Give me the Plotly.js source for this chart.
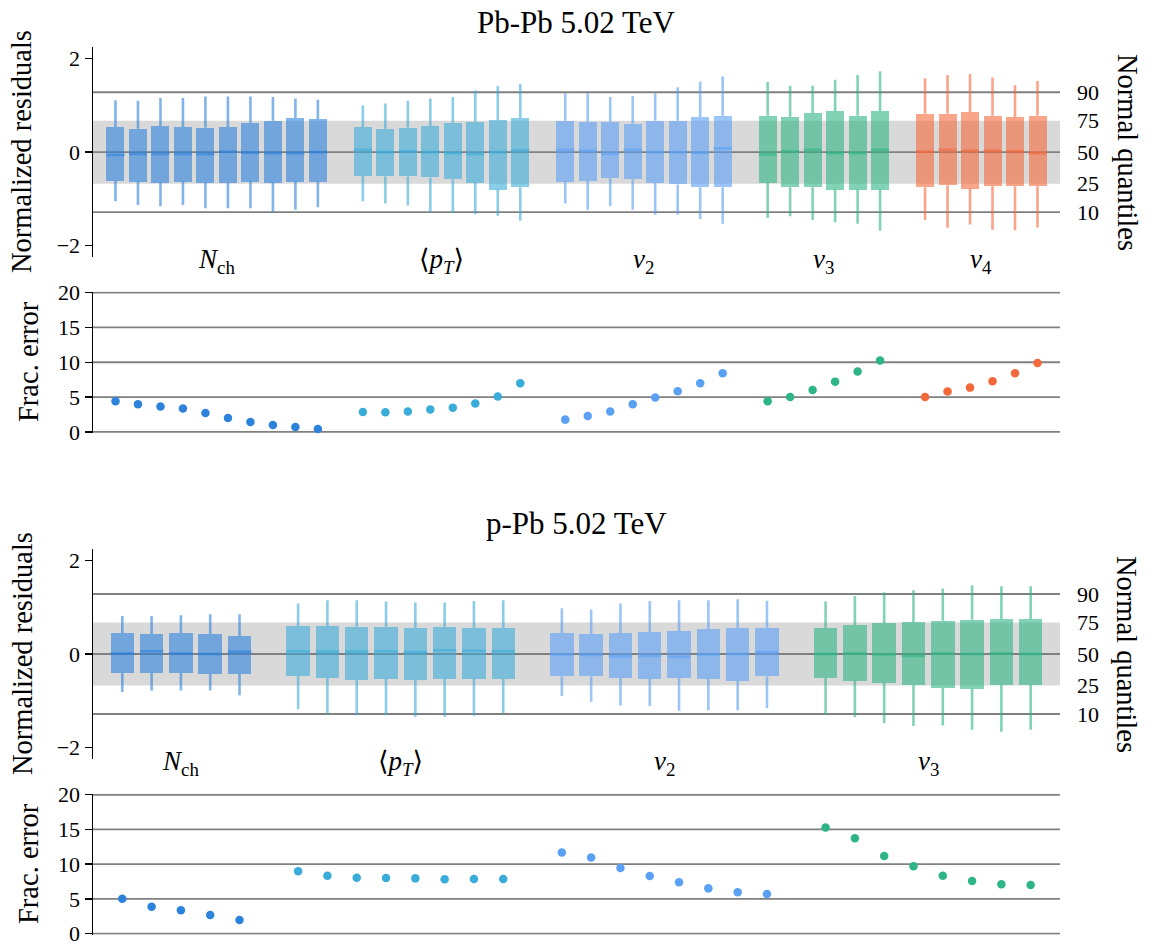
<!DOCTYPE html>
<html><head><meta charset="utf-8">
<script src="https://cdn.plot.ly/plotly-3.0.1.min.js"></script>
<style>html,body{margin:0;padding:0;background:#fff}</style>
</head><body>
<div id="chart" style="width:1153px;height:941px"></div>
<script>
// ---------------- DATA ----------------
// Normal quantile reference levels (z-scores) and their labels
const quantileZ = [1.2816, 0.6745, 0, -0.6745, -1.2816];
const quantileLabels = ['90', '75', '50', '25', '10'];

// ===== Pb-Pb 5.02 TeV =====
const PbPb_Nch_hi  = [1.11, 1.10, 1.16, 1.16, 1.19, 1.19, 1.19, 1.18, 1.15, 1.12];
const PbPb_Nch_q3  = [0.54, 0.50, 0.56, 0.54, 0.52, 0.54, 0.63, 0.67, 0.73, 0.71];
const PbPb_Nch_med = [-0.06, -0.04, -0.04, -0.04, -0.04, 0.01, -0.01, -0.02, -0.02, 0.00];
const PbPb_Nch_q1  = [-0.61, -0.63, -0.65, -0.63, -0.65, -0.65, -0.63, -0.65, -0.63, -0.63];
const PbPb_Nch_lo  = [-1.05, -1.13, -1.16, -1.13, -1.20, -1.20, -1.20, -1.27, -1.23, -1.18];
const PbPb_Nch_frac = [4.40, 3.97, 3.64, 3.35, 2.73, 2.01, 1.44, 1.00, 0.72, 0.43];

const PbPb_pT_hi  = [1.00, 1.04, 1.10, 1.15, 1.18, 1.32, 1.41, 1.46];
const PbPb_pT_q3  = [0.54, 0.50, 0.52, 0.56, 0.63, 0.65, 0.69, 0.73];
const PbPb_pT_med = [0.05, 0.00, 0.02, 0.00, -0.02, -0.04, 0.00, 0.04];
const PbPb_pT_q1  = [-0.50, -0.52, -0.52, -0.54, -0.58, -0.65, -0.80, -0.75];
const PbPb_pT_lo  = [-1.05, -1.10, -1.14, -1.28, -1.30, -1.33, -1.36, -1.47];
const PbPb_pT_frac = [2.87, 2.82, 2.92, 3.21, 3.49, 4.07, 5.07, 6.99];

const PbPb_v2_hi  = [1.26, 1.26, 1.18, 1.20, 1.26, 1.39, 1.51, 1.62];
const PbPb_v2_q3  = [0.67, 0.65, 0.65, 0.61, 0.67, 0.67, 0.75, 0.78];
const PbPb_v2_med = [0.05, 0.03, -0.04, 0.05, 0.00, 0.00, -0.01, 0.08];
const PbPb_v2_q1  = [-0.63, -0.61, -0.56, -0.58, -0.65, -0.69, -0.75, -0.75];
const PbPb_v2_lo  = [-1.10, -1.23, -1.15, -1.23, -1.34, -1.34, -1.43, -1.53];
const PbPb_v2_frac = [1.77, 2.30, 2.92, 3.97, 4.93, 5.84, 6.99, 8.42];

const PbPb_v3_hi  = [1.50, 1.42, 1.42, 1.55, 1.65, 1.73];
const PbPb_v3_q3  = [0.78, 0.75, 0.84, 0.88, 0.78, 0.88];
const PbPb_v3_med = [-0.05, 0.02, 0.05, -0.02, -0.02, 0.05];
const PbPb_v3_q1  = [-0.65, -0.75, -0.75, -0.80, -0.80, -0.80];
const PbPb_v3_lo  = [-1.41, -1.37, -1.45, -1.50, -1.53, -1.68];
const PbPb_v3_frac = [4.40, 5.02, 6.03, 7.22, 8.66, 10.24];

const PbPb_v4_hi  = [1.58, 1.65, 1.67, 1.60, 1.43, 1.52];
const PbPb_v4_q3  = [0.82, 0.82, 0.86, 0.78, 0.75, 0.78];
const PbPb_v4_med = [0.01, 0.05, 0.03, 0.03, 0.02, -0.02];
const PbPb_v4_q1  = [-0.75, -0.71, -0.78, -0.73, -0.73, -0.73];
const PbPb_v4_lo  = [-1.45, -1.62, -1.55, -1.66, -1.67, -1.61];
const PbPb_v4_frac = [5.02, 5.79, 6.36, 7.27, 8.42, 9.90];

// ===== p-Pb 5.02 TeV =====
const pPb_Nch_hi  = [0.81, 0.81, 0.83, 0.85, 0.85];
const pPb_Nch_q3  = [0.45, 0.43, 0.45, 0.43, 0.38];
const pPb_Nch_med = [0.01, 0.06, 0.01, 0.00, 0.05];
const pPb_Nch_q1  = [-0.40, -0.40, -0.40, -0.42, -0.42];
const pPb_Nch_lo  = [-0.81, -0.78, -0.78, -0.78, -0.88];
const pPb_Nch_frac = [5.04, 3.88, 3.36, 2.69, 1.97];

const pPb_pT_hi  = [1.08, 1.15, 1.15, 1.12, 1.10, 1.10, 1.13, 1.15];
const pPb_pT_q3  = [0.60, 0.60, 0.58, 0.58, 0.56, 0.58, 0.56, 0.56];
const pPb_pT_med = [0.06, 0.05, 0.05, 0.06, 0.04, 0.08, 0.07, 0.06];
const pPb_pT_q1  = [-0.46, -0.51, -0.55, -0.53, -0.55, -0.53, -0.53, -0.53];
const pPb_pT_lo  = [-1.18, -1.27, -1.31, -1.31, -1.34, -1.34, -1.32, -1.27];
const pPb_pT_frac = [8.97, 8.35, 8.06, 8.01, 7.96, 7.82, 7.87, 7.87];

const pPb_v2_hi  = [0.98, 0.95, 1.08, 1.13, 1.15, 1.15, 1.17, 1.14];
const pPb_v2_q3  = [0.45, 0.43, 0.45, 0.47, 0.49, 0.53, 0.56, 0.56];
const pPb_v2_med = [-0.01, -0.02, -0.05, -0.04, -0.06, -0.01, 0.00, 0.04];
const pPb_v2_q1  = [-0.48, -0.48, -0.51, -0.53, -0.51, -0.53, -0.57, -0.48];
const pPb_v2_lo  = [-0.90, -1.02, -1.10, -1.11, -1.21, -1.20, -1.20, -1.16];
const pPb_v2_frac = [11.70, 10.98, 9.45, 8.30, 7.39, 6.52, 5.95, 5.71];

const pPb_v3_hi  = [1.12, 1.24, 1.32, 1.36, 1.40, 1.47, 1.45, 1.45];
const pPb_v3_q3  = [0.56, 0.62, 0.66, 0.68, 0.71, 0.73, 0.75, 0.75];
const pPb_v3_med = [0.00, 0.01, -0.01, -0.04, 0.01, 0.00, 0.01, 0.00];
const pPb_v3_q1  = [-0.51, -0.57, -0.61, -0.66, -0.72, -0.74, -0.66, -0.66];
const pPb_v3_lo  = [-1.30, -1.35, -1.48, -1.54, -1.53, -1.62, -1.66, -1.62];
const pPb_v3_frac = [15.30, 13.72, 11.17, 9.69, 8.35, 7.58, 7.10, 7.00];

// group labels
const labelNch = '<i>N</i><sub>ch</sub>';
const labelPT  = '⟨<i>p</i><sub><i>T</i></sub>⟩';
const labelV2  = '<i>v</i><sub>2</sub>';
const labelV3  = '<i>v</i><sub>3</sub>';
const labelV4  = '<i>v</i><sub>4</sub>';

// ---------------- STYLE ----------------
const RGB = {Nch: '45,130,220', pT: '58,172,218', v2: '90,160,245', v3: '46,181,133', v4: '244,105,60'};
const ALPHA = 0.6;
const FONT = '"Liberation Serif", "DejaVu Serif", serif';
const W = 1153, H = 941, ML = 93, MR = 93;
const plotW = W - ML - MR;
const RES_RANGE = [-2.25, 2.25];
const LABEL_LEVEL = -2.33; // vertical level of the group names (residual units, below the axis)

const panelPbPb = [
  {key: 'Nch', label: labelNch, hi: PbPb_Nch_hi, q3: PbPb_Nch_q3, med: PbPb_Nch_med, q1: PbPb_Nch_q1, lo: PbPb_Nch_lo, fe: PbPb_Nch_frac},
  {key: 'pT',  label: labelPT,  hi: PbPb_pT_hi,  q3: PbPb_pT_q3,  med: PbPb_pT_med,  q1: PbPb_pT_q1,  lo: PbPb_pT_lo,  fe: PbPb_pT_frac},
  {key: 'v2',  label: labelV2,  hi: PbPb_v2_hi,  q3: PbPb_v2_q3,  med: PbPb_v2_med,  q1: PbPb_v2_q1,  lo: PbPb_v2_lo,  fe: PbPb_v2_frac},
  {key: 'v3',  label: labelV3,  hi: PbPb_v3_hi,  q3: PbPb_v3_q3,  med: PbPb_v3_med,  q1: PbPb_v3_q1,  lo: PbPb_v3_lo,  fe: PbPb_v3_frac},
  {key: 'v4',  label: labelV4,  hi: PbPb_v4_hi,  q3: PbPb_v4_q3,  med: PbPb_v4_med,  q1: PbPb_v4_q1,  lo: PbPb_v4_lo,  fe: PbPb_v4_frac}
];
const panelPPb = [
  {key: 'Nch', label: labelNch, hi: pPb_Nch_hi, q3: pPb_Nch_q3, med: pPb_Nch_med, q1: pPb_Nch_q1, lo: pPb_Nch_lo, fe: pPb_Nch_frac},
  {key: 'pT',  label: labelPT,  hi: pPb_pT_hi,  q3: pPb_pT_q3,  med: pPb_pT_med,  q1: pPb_pT_q1,  lo: pPb_pT_lo,  fe: pPb_pT_frac},
  {key: 'v2',  label: labelV2,  hi: pPb_v2_hi,  q3: pPb_v2_q3,  med: pPb_v2_med,  q1: pPb_v2_q1,  lo: pPb_v2_lo,  fe: pPb_v2_frac},
  {key: 'v3',  label: labelV3,  hi: pPb_v3_hi,  q3: pPb_v3_q3,  med: pPb_v3_med,  q1: pPb_v3_q1,  lo: pPb_v3_lo,  fe: pPb_v3_frac}
];

const traces = [];
const annotations = [];
const shapes = [];

function buildPanel(groups, xr, yr, xf, yf) {
  let pos = 0;
  let total = 0;
  groups.forEach(g => total += g.hi.length);
  total += groups.length - 1;
  const span = total + 1; // range [-1, total]
  const boxPx = 0.8 * plotW / span;
  groups.forEach(g => {
    const n = g.hi.length;
    const xs = [];
    for (let i = 0; i < n; i++) xs.push(pos + i);
    const c = RGB[g.key];
    const rgba = 'rgba(' + c + ',' + ALPHA + ')';
    // boxes
    traces.push({type: 'bar', x: xs, base: g.q1, y: g.q3.map((v, i) => v - g.q1[i]), width: 0.8,
      marker: {color: rgba, line: {width: 0}}, xaxis: xr, yaxis: yr, hoverinfo: 'skip', showlegend: false});
    // whiskers
    const wx = [], wy = [];
    for (let i = 0; i < n; i++) {
      wx.push(xs[i], xs[i], null, xs[i], xs[i], null);
      wy.push(g.q3[i], g.hi[i], null, g.q1[i], g.lo[i], null);
    }
    traces.push({type: 'scatter', mode: 'lines', x: wx, y: wy, line: {color: rgba, width: 2.6},
      xaxis: xr, yaxis: yr, hoverinfo: 'skip', showlegend: false, connectgaps: false});
    // medians (line-ew symbol spans 1.4 x size)
    traces.push({type: 'scatter', mode: 'markers', x: xs, y: g.med,
      marker: {symbol: 'line-ew', size: boxPx / 1.4, line: {color: rgba, width: 2.6}},
      xaxis: xr, yaxis: yr, hoverinfo: 'skip', showlegend: false});
    // fractional error
    traces.push({type: 'scatter', mode: 'markers', x: xs, y: g.fe, cliponaxis: false,
      marker: {color: 'rgb(' + c + ')', size: 8.5, line: {width: 0}},
      xaxis: xf, yaxis: yf, hoverinfo: 'skip', showlegend: false});
    // group label (placed in axis-domain units just below the residual axis)
    const mid = (xs[0] + xs[n - 1]) / 2;
    annotations.push({text: g.label, x: mid, y: (LABEL_LEVEL - RES_RANGE[0]) / (RES_RANGE[1] - RES_RANGE[0]),
      xref: xr, yref: yr + ' domain', showarrow: false,
      xanchor: 'center', yanchor: 'middle', font: {family: FONT, size: 27, color: '#000'}});
    pos += n + 1;
  });
  return [-1, total];
}

const xr1 = buildPanel(panelPbPb, 'x', 'y', 'x2', 'y2');
const xr2 = buildPanel(panelPPb, 'x3', 'y3', 'x4', 'y4');

// Reference band & lines in residual panels
[['x', 'y'], ['x3', 'y3']].forEach(([xa, ya]) => {
  shapes.push({type: 'rect', xref: xa + ' domain', yref: ya, x0: 0, x1: 1, y0: quantileZ[3], y1: quantileZ[1],
    fillcolor: '#d9d9d9', line: {width: 0}, layer: 'below'});
  [quantileZ[0], quantileZ[2], quantileZ[4]].forEach(z => {
    shapes.push({type: 'line', xref: xa + ' domain', yref: ya, x0: 0, x1: 1, y0: z, y1: z,
      line: {color: '#808080', width: 1.8}, layer: 'below'});
  });
});
// grid lines in frac panels
const fracTicks = [0, 5, 10, 15, 20];
[['x2', 'y2'], ['x4', 'y4']].forEach(([xa, ya]) => {
  fracTicks.forEach(t => {
    shapes.push({type: 'line', xref: xa + ' domain', yref: ya, x0: 0, x1: 1, y0: t, y1: t,
      line: {color: '#808080', width: 1.8}, layer: 'below'});
  });
});

// empty traces so right axes render
traces.push({type: 'scatter', x: [], y: [], xaxis: 'x', yaxis: 'y5', showlegend: false, hoverinfo: 'skip'});
traces.push({type: 'scatter', x: [], y: [], xaxis: 'x3', yaxis: 'y6', showlegend: false, hoverinfo: 'skip'});

const pyTop = px => 1 - px / H;
const pxX = px => (px - ML) / plotW;

const tickFont = {family: FONT, size: 22, color: '#000'};
const residAxis = dom => ({domain: dom, range: RES_RANGE, tickvals: [-2, 0, 2], ticktext: ['−2', '0', '2'],
  showline: true, linecolor: '#000', linewidth: 1.5, ticks: 'outside', ticklen: 7, tickwidth: 1.5, tickcolor: '#000',
  showgrid: false, zeroline: false, tickfont: tickFont, fixedrange: true, ticklabeloverflow: 'allow'});
const fracAxis = dom => ({domain: dom, range: [-0.15, 20.15], tickvals: fracTicks, ticktext: fracTicks.map(String),
  showline: true, linecolor: '#000', linewidth: 1.5, ticks: 'outside', ticklen: 7, tickwidth: 1.5, tickcolor: '#000',
  showgrid: false, zeroline: false, tickfont: tickFont, fixedrange: true, ticklabeloverflow: 'allow'});
const rightAxis = (ov, anc) => ({overlaying: ov, anchor: anc, side: 'right', range: RES_RANGE,
  tickvals: quantileZ, ticktext: quantileLabels, showline: false, ticks: '', showgrid: false, zeroline: false,
  tickfont: tickFont, ticklabelstandoff: 16, fixedrange: true, ticklabeloverflow: 'allow'});
const hiddenX = (rng, anc) => ({range: rng, anchor: anc, visible: false, domain: [0, 1], fixedrange: true});

// titles and axis labels
const titleFont = {family: FONT, size: 31, color: '#000'};
const labFont = {family: FONT, size: 28.5, color: '#000'};
annotations.push({text: 'Pb-Pb 5.02 TeV', xref: 'paper', yref: 'paper', x: 0.5, y: pyTop(22), showarrow: false,
  xanchor: 'center', yanchor: 'middle', font: titleFont});
annotations.push({text: 'p-Pb 5.02 TeV', xref: 'paper', yref: 'paper', x: 0.5, y: pyTop(523), showarrow: false,
  xanchor: 'center', yanchor: 'middle', font: titleFont});
[[152, 362], [654, 864]].forEach(([cr, cf]) => {
  annotations.push({text: 'Normalized residuals', xref: 'paper', yref: 'paper', x: pxX(22), y: pyTop(cr), textangle: -90,
    showarrow: false, xanchor: 'center', yanchor: 'middle', font: labFont});
  annotations.push({text: 'Frac. error', xref: 'paper', yref: 'paper', x: pxX(28), y: pyTop(cf), textangle: -90,
    showarrow: false, xanchor: 'center', yanchor: 'middle', font: labFont});
  annotations.push({text: 'Normal quantiles', xref: 'paper', yref: 'paper', x: pxX(1127), y: pyTop(cr), textangle: 90,
    showarrow: false, xanchor: 'center', yanchor: 'middle', font: labFont});
});

const layout = {
  width: W, height: H, autosize: false,
  margin: {l: ML, r: MR, t: 0, b: 0, pad: 0},
  paper_bgcolor: '#fff', plot_bgcolor: 'rgba(0,0,0,0)',
  showlegend: false, barmode: 'overlay', bargap: 0,
  font: {family: FONT, color: '#000'},
  xaxis: hiddenX(xr1, 'y'), xaxis2: hiddenX(xr1, 'y2'),
  xaxis3: hiddenX(xr2, 'y3'), xaxis4: hiddenX(xr2, 'y4'),
  yaxis: Object.assign(residAxis([pyTop(257.3), pyTop(47)]), {anchor: 'x'}),
  yaxis2: Object.assign(fracAxis([pyTop(433), pyTop(291.5)]), {anchor: 'x2'}),
  yaxis3: Object.assign(residAxis([pyTop(759.3), pyTop(548.7)]), {anchor: 'x3'}),
  yaxis4: Object.assign(fracAxis([pyTop(934.7), pyTop(793.7)]), {anchor: 'x4'}),
  yaxis5: rightAxis('y', 'x'),
  yaxis6: rightAxis('y3', 'x3'),
  shapes: shapes,
  annotations: annotations
};

Plotly.newPlot('chart', traces, layout, {displayModeBar: false, staticPlot: true});
</script>
</body></html>
